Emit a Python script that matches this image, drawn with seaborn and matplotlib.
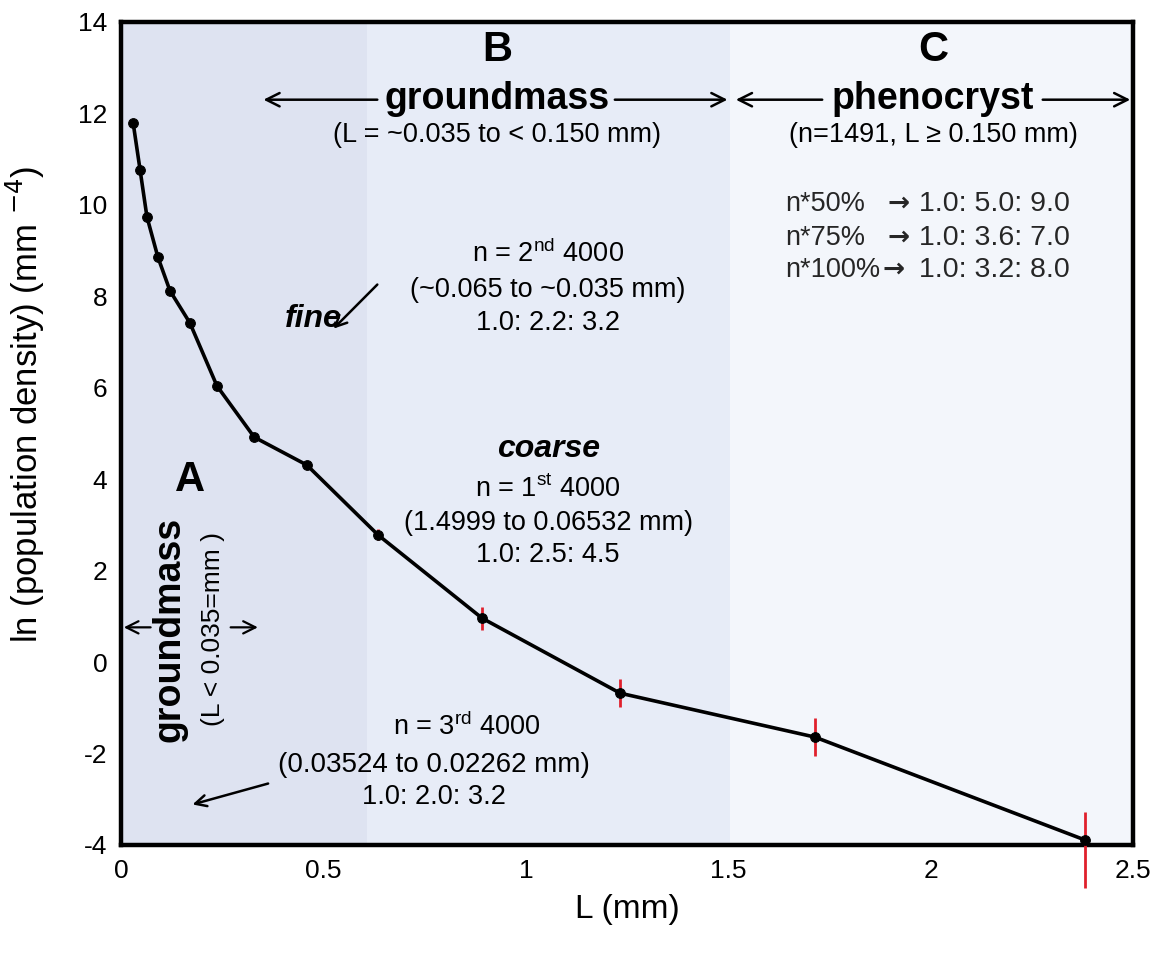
import matplotlib
matplotlib.use("Agg")
import matplotlib.pyplot as plt
import seaborn as sns
import pandas as pd
import numpy as np

# ---- data ----
L_mm = [0.030, 0.047, 0.064, 0.091, 0.121, 0.170, 0.237, 0.329, 0.459,
        0.635, 0.892, 1.233, 1.714, 2.381]
ln_n = [11.79, 10.77, 9.74, 8.86, 8.12, 7.42, 6.04, 4.92, 4.31,
        2.78, 0.96, -0.68, -1.64, -3.89]
err_lo = [0, 0, 0, 0, 0, 0, 0, 0, 0, 0.12, 0.25, 0.30, 0.42, 1.05]
err_hi = [0, 0, 0, 0, 0, 0, 0, 0, 0, 0.12, 0.25, 0.30, 0.42, 0.62]

region_edges = [0.0, 0.607, 1.505, 2.5]
region_colors = ["#dee3f1", "#e7ecf7", "#f3f6fb"]

x_ticks = [0, 0.5, 1, 1.5, 2, 2.5]
x_ticklabels = ["0", "0.5", "1", "1.5", "2", "2.5"]
y_ticks = [-4, -2, 0, 2, 4, 6, 8, 10, 12, 14]

ratio_labels = ["n*50%", "n*75%", "n*100%"]
ratio_values = ["1.0: 5.0: 9.0", "1.0: 3.6: 7.0", "1.0: 3.2: 8.0"]

df = pd.DataFrame({"L": L_mm, "lnn": ln_n, "lo": err_lo, "hi": err_hi})

sns.set_theme(style="white")
plt.rcParams["font.family"] = ["Liberation Sans", "DejaVu Sans"]
plt.rcParams["axes.unicode_minus"] = False

fig = plt.figure(figsize=(11.67, 9.55), dpi=100)
ax = fig.add_axes([0.1037, 0.1152, 0.8672, 0.8618])

for i in range(3):
    ax.axvspan(region_edges[i], region_edges[i + 1], color=region_colors[i], lw=0, zorder=0)

# error bars
ax.errorbar(df["L"], df["lnn"], yerr=[df["lo"], df["hi"]], fmt="none", ecolor="#e0202c",
            elinewidth=2.0, capsize=0, zorder=3, clip_on=False)
sns.lineplot(data=df, x="L", y="lnn", ax=ax, color="black", lw=2.6,
             marker="o", markersize=7, markeredgecolor="black", zorder=4,
             sort=False)

ax.set_xlim(0, 2.5)
ax.set_ylim(-4, 14)
ax.set_xticks(x_ticks)
ax.set_xticklabels(x_ticklabels)
ax.set_yticks(y_ticks)
ax.tick_params(axis="both", length=0, labelsize=19, pad=10, labelcolor="black")
for s in ax.spines.values():
    s.set_color("black")
    s.set_linewidth(3.2)
ax.set_xlabel("L (mm)", fontsize=24, labelpad=8, color="black")
ax.set_ylabel("ln (population density) (mm $^{-4}$)", fontsize=25, color="black")
ax.yaxis.set_label_coords(-0.073, 0.535)

ax.grid(False)

tkw = dict(ha="center", va="center", color="black", zorder=5)
arr = dict(arrowstyle="->", color="black", lw=1.8, mutation_scale=24)
FS = 19.5

# Region B
ax.text(0.929, 13.38, "B", fontsize=30, fontweight="bold", **tkw)
ax.text(0.929, 12.32, "groundmass", fontsize=27, fontweight="bold", **tkw)
ax.annotate("", xy=(0.345, 12.30), xytext=(0.64, 12.30), arrowprops=arr)
ax.annotate("", xy=(1.505, 12.30), xytext=(1.213, 12.30), arrowprops=arr)
ax.text(0.929, 11.52, "(L = ~0.035 to < 0.150 mm)", fontsize=FS, **tkw)

# Region C
ax.text(2.006, 13.38, "C", fontsize=30, fontweight="bold", **tkw)
ax.text(2.006, 12.32, "phenocryst", fontsize=27, fontweight="bold", **tkw)
ax.annotate("", xy=(1.512, 12.30), xytext=(1.739, 12.30), arrowprops=arr)
ax.annotate("", xy=(2.5, 12.30), xytext=(2.27, 12.30), arrowprops=arr)
ax.text(2.006, 11.52, "(n=1491, L ≥ 0.150 mm)", fontsize=FS, **tkw)

ratio_y = [10.02, 9.28, 8.58]
arrow_x = [1.893, 1.893, 1.882]
for lab, val, yy, axx in zip(ratio_labels, ratio_values, ratio_y, arrow_x):
    ax.text(1.640, yy, lab, fontsize=19.5, ha="left", va="center", zorder=5)
    ax.text(axx, yy, "→", fontsize=19, ha="left", va="center", zorder=5,
            family=["DejaVu Sans"], fontweight="bold")
    ax.text(1.972, yy, val, fontsize=20.5, ha="left", va="center", zorder=5)

# fine
ax.text(1.055, 8.92, "n = 2$^{\\mathregular{nd}}$ 4000", fontsize=FS, **tkw)
ax.text(1.055, 8.14, "(~0.065 to ~0.035 mm)", fontsize=FS, **tkw)
ax.text(1.055, 7.42, "1.0: 2.2: 3.2", fontsize=FS, **tkw)
ax.text(0.474, 7.50, "fine", fontsize=23, fontweight="bold", style="italic", **tkw)
ax.annotate("", xy=(0.52, 7.25), xytext=(0.638, 8.30),
            arrowprops=dict(arrowstyle="->", color="black", lw=1.8, mutation_scale=20))

# coarse
ax.text(1.055, 4.66, "coarse", fontsize=23, fontweight="bold", style="italic", **tkw)
ax.text(1.055, 3.78, "n = 1$^{\\mathregular{st}}$ 4000", fontsize=FS, **tkw)
ax.text(1.055, 3.05, "(1.4999 to 0.06532 mm)", fontsize=FS, **tkw)
ax.text(1.055, 2.34, "1.0: 2.5: 4.5", fontsize=FS, **tkw)

# Region A
ax.text(0.17, 3.98, "A", fontsize=30, fontweight="bold", **tkw)
ax.text(0.121, 0.72, "groundmass", fontsize=27, fontweight="bold", rotation=90, **tkw)
ax.text(0.228, 0.72, "(L < 0.035=mm )", fontsize=19, rotation=90, **tkw)
ax.annotate("", xy=(0.0, 0.76), xytext=(0.08, 0.76),
            arrowprops=dict(arrowstyle="->", color="black", lw=1.6, mutation_scale=22))
ax.annotate("", xy=(0.345, 0.76), xytext=(0.264, 0.76),
            arrowprops=dict(arrowstyle="->", color="black", lw=1.6, mutation_scale=22))

# third 4000
ax.text(0.855, -1.42, "n = 3$^{\\mathregular{rd}}$ 4000", fontsize=FS, **tkw)
ax.text(0.772, -2.25, "(0.03524 to 0.02262 mm)", fontsize=20, **tkw)
ax.text(0.772, -2.95, "1.0: 2.0: 3.2", fontsize=FS, **tkw)
ax.annotate("", xy=(0.17, -3.13), xytext=(0.37, -2.64),
            arrowprops=dict(arrowstyle="->", color="black", lw=1.8, mutation_scale=20))

fig.savefig("out.png", dpi=100, facecolor="white")
